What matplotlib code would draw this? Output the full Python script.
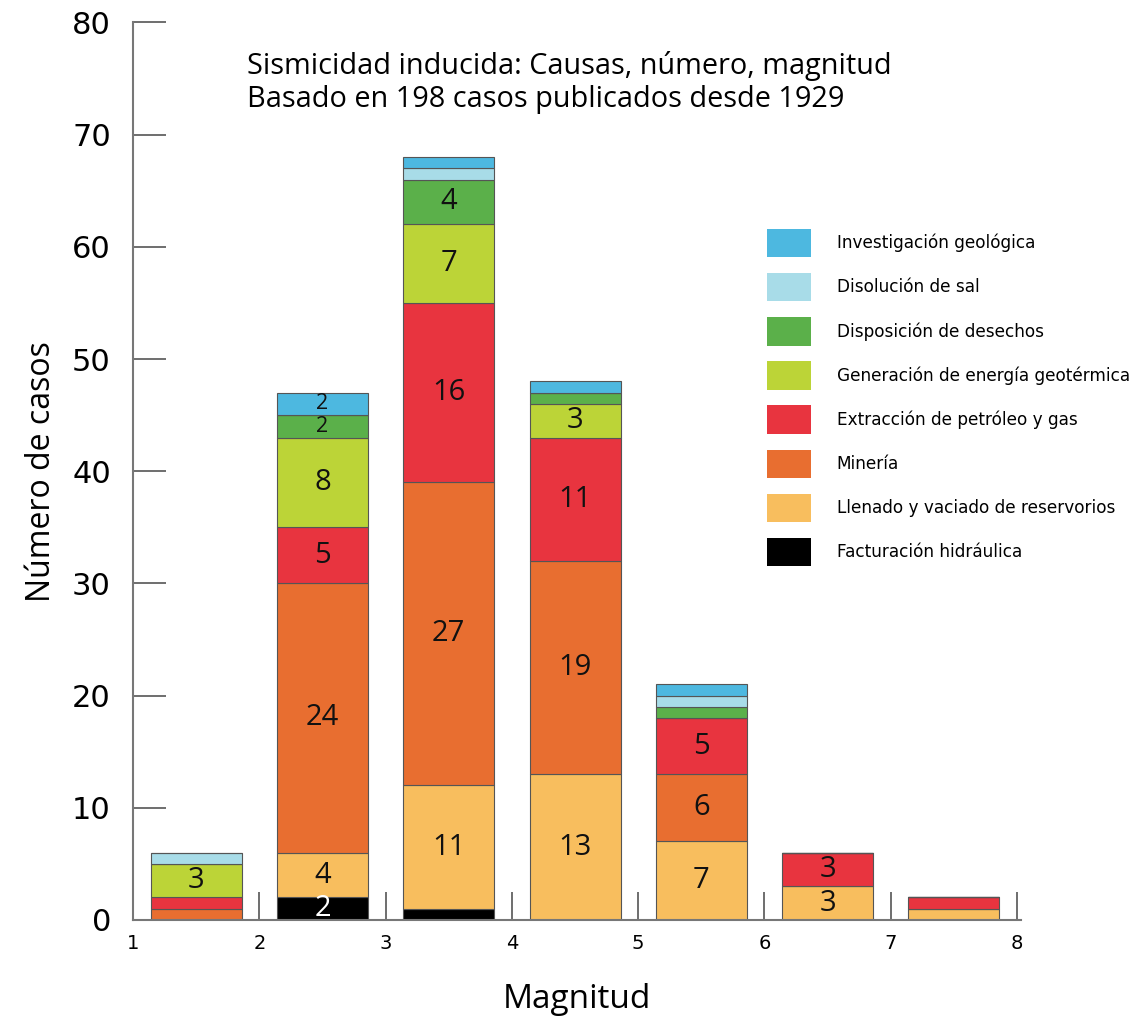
import numpy as np
import matplotlib
matplotlib.use("Agg")
import matplotlib.pyplot as plt
from matplotlib.patches import Patch

# magnitude bins (left edge), bar drawn centred in each bin
bins = [1, 2, 3, 4, 5, 6, 7]

# stacked from bottom to top
categories = [
    "Facturación hidráulica",
    "Llenado y vaciado de reservorios",
    "Minería",
    "Extracción de petróleo y gas",
    "Generación de energía geotérmica",
    "Disposición de desechos",
    "Disolución de sal",
    "Investigación geológica",
]
fractura = [0, 2, 1, 0, 0, 0, 0]
llenado = [0, 4, 11, 13, 7, 3, 1]
mineria = [1, 24, 27, 19, 6, 0, 0]
extraccion = [1, 5, 16, 11, 5, 3, 1]
geotermica = [3, 8, 7, 3, 0, 0, 0]
desechos = [0, 2, 4, 1, 1, 0, 0]
sal = [1, 0, 1, 0, 1, 0, 0]
investigacion = [0, 2, 1, 1, 1, 0, 0]

series = [fractura, llenado, mineria, extraccion, geotermica, desechos, sal, investigacion]
colors = ["#000000", "#F8BE5E", "#E86E30", "#E8343F", "#BCD437", "#5BB04A", "#A8DCE8", "#4DB8E0"]

fig = plt.figure(figsize=(11.38, 10.21), dpi=100)
ax = fig.add_axes([0.117, 0.099, 0.78, 0.879])

x = np.array(bins) + 0.5
bottom = np.zeros(len(bins))
for vals, col in zip(series, colors):
    vals = np.array(vals, dtype=float)
    ax.bar(x, vals, width=0.72, bottom=bottom, color=col,
           edgecolor="#555555", linewidth=0.8)
    for xi, b, v in zip(x, bottom, vals):
        if v >= 2:
            tc = "white" if col == "#000000" else "#111111"
            # thin segments get a smaller number so neighbours don't collide
            fs = 15.5 if (v == 2 and col != "#000000") else 21
            ax.text(xi, b + v / 2, f"{int(v)}", ha="center", va="center",
                    fontsize=fs, color=tc, family="Open Sans")
    bottom += vals

ax.set_xlim(1, 8.03)
ax.set_ylim(0, 80)
ax.set_xticks(range(1, 9))
ax.set_yticks(range(0, 81, 10))
ax.tick_params(axis="y", direction="in", length=24, width=1.2, color="#555555",
               labelsize=22, pad=16)
ax.tick_params(axis="x", direction="in", length=20, width=1.2, color="#555555",
               labelsize=14, pad=10)
for s in ["top", "right"]:
    ax.spines[s].set_visible(False)
for s in ["left", "bottom"]:
    ax.spines[s].set_color("#777777")
    ax.spines[s].set_linewidth(1.5)

ax.set_ylabel("Número de casos", fontsize=23, family="Open Sans", labelpad=10)
ax.set_xlabel("Magnitud", fontsize=24, family="Open Sans", labelpad=22)

ax.text(1.9, 77.5, "Sismicidad inducida: Causas, número, magnitud\nBasado en 198 casos publicados desde 1929",
        fontsize=20.8, family="Open Sans", va="top", ha="left", linespacing=1.2)

handles = [Patch(facecolor=c, edgecolor="none") for c in colors[::-1]]
leg = ax.legend(handles, categories[::-1], loc="upper left", bbox_to_anchor=(0.697, 0.787),
                frameon=False, fontsize=12.2, handlelength=2.6, handleheight=2.2,
                labelspacing=0.93, handletextpad=1.5)

fig.savefig("out.png", dpi=100)
